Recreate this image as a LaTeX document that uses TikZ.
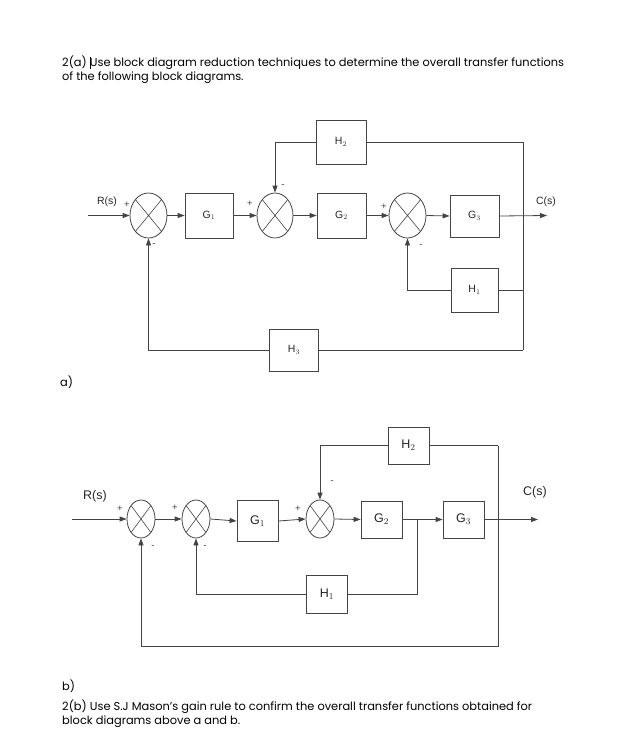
\documentclass[tikz,border=0pt]{standalone}
\usepackage{fontspec}
\setmainfont{Liberation Sans}
\newfontfamily\parafont{Poppins}
\usetikzlibrary{shapes.geometric,arrows.meta}
\definecolor{ln}{HTML}{444444}
\tikzset{
  blk/.style={draw=ln, line width=0.8pt, minimum width=#1, inner sep=0pt},
  sumj/.style={draw=ln, line width=0.8pt, ellipse, inner sep=0pt,
    path picture={\draw[ln, line width=0.6pt] (path picture bounding box.north west) -- (path picture bounding box.south east)
      (path picture bounding box.north east) -- (path picture bounding box.south west);}},
  wire/.style={draw=ln, line width=0.8pt},
  arr/.style={wire, -{Triangle[length=7pt,width=5pt]}},
  sgn/.style={font=\fontsize{9.5}{9.5}\selectfont, inner sep=0pt, text=ln},
  lbla/.style={font=\fontsize{10.5}{10.5}\selectfont, text=black!85},
  lblb/.style={font=\fontsize{12.5}{12.5}\selectfont, text=black!85},
  para/.style={font=\parafont\fontsize{11.4}{13.5}\selectfont, anchor=base west, inner sep=0pt},
}
\begin{document}
\begin{tikzpicture}[x=1pt,y=-1pt]
\useasboundingbox (0,0) rectangle (638,749);
% header text
\node[para] (t1) at (62,67) {2(a) Use block diagram reduction techniques to determine the overall transfer functions};
\node[para] (t2) at (62,81) {of the following block diagrams.};
\draw[black, line width=0.5pt] (90.5,57) -- (90.5,69);

% ---------- diagram a ----------
\node[sumj, minimum width=37pt, minimum height=45pt] (sa1) at (148.5,215.5) {};
\node[blk=48pt, minimum height=45pt, lbla] (ga1) at (209,215.5) {G$_1$};
\node[sumj, minimum width=36pt, minimum height=45pt] (sa2) at (275,215.5) {};
\node[blk=50pt, minimum height=44pt, lbla] (ha2) at (341,142) {H$_2$};
\node[blk=49pt, minimum height=45pt, lbla] (ga2) at (341.5,215.5) {G$_2$};
\node[sumj, minimum width=37pt, minimum height=45pt] (sa3) at (407.5,215.5) {};
\node[blk=49pt, minimum height=42pt, lbla] (ga3) at (474.5,216) {G$_3$};
\node[blk=47pt, minimum height=44pt, lbla] (ha1) at (474.5,290) {H$_1$};
\node[blk=49pt, minimum height=42pt, lbla] (ha3) at (294,350) {H$_3$};

\coordinate (ain) at (88,215.5);
\coordinate (aout) at (547,215.5);
\coordinate (apk) at (523,215.5);
\coordinate (atr) at (523,142);
\coordinate (abr) at (523,350);
\coordinate (abl) at (148.5,350);
\coordinate (ah2l) at (275,142);
\coordinate (ah1l) at (407.5,290);
\coordinate (ah1r) at (523,290);

\draw[arr] (ain) -- (sa1.west);
\draw[arr] (sa1.east) -- (ga1.west);
\draw[arr] (ga1.east) -- (sa2.west);
\draw[arr] (sa2.east) -- (ga2.west);
\draw[arr] (ga2.east) -- (sa3.west);
\draw[arr] (sa3.east) -- (ga3.west);
\draw[arr] (ga3.east) -- (aout);
\draw[wire] (atr) -- (abr);
\draw[wire] (atr) -- (ha2.east);
\draw[arr] (ha2.west) -- (ah2l) -- (sa2.north);
\draw[wire] (ah1r) -- (ha1.east);
\draw[arr] (ha1.west) -- (ah1l) -- (sa3.south);
\draw[wire] (abr) -- (ha3.east);
\draw[arr] (ha3.west) -- (abl) -- (sa1.south);

\node[lbla] (ar) at (107,202) {R(s)};
\node[lbla] (ac) at (546,202) {C(s)};
\node[sgn] (ap1) at (127,205) {+};
\node[sgn] (am1) at (154,245) {-};
\node[sgn] (ap2) at (250,204) {+};
\node[sgn] (am2) at (283,186) {-};
\node[sgn] (ap3) at (384,207) {+};
\node[sgn] (am3) at (421,246) {-};

\node[para] (la) at (60,386) {a)};

% ---------- diagram b ----------
\node[sumj, minimum width=28pt, minimum height=38pt] (sb1) at (141,519) {};
\node[sumj, minimum width=28pt, minimum height=38pt] (sb2) at (196,519) {};
\node[blk=41pt, minimum height=41pt, lblb] (gb1) at (257.5,521) {G$_1$};
\node[sumj, minimum width=28pt, minimum height=38pt] (sb3) at (320,519) {};
\node[blk=41pt, minimum height=37pt, lblb] (hb2) at (408.5,445.5) {H$_2$};
\node[blk=41pt, minimum height=37pt, lblb] (gb2) at (381.5,519.5) {G$_2$};
\node[blk=41pt, minimum height=37pt, lblb] (gb3) at (463.5,519.5) {G$_3$};
\node[blk=41pt, minimum height=38pt, lblb] (hb1) at (327,594) {H$_1$};

\coordinate (bin) at (72,519);
\coordinate (bout) at (538,519.5);
\coordinate (bpk) at (417,519.5);
\coordinate (bpkb) at (417,594);
\coordinate (btr) at (498,445.5);
\coordinate (bbr) at (498,646);
\coordinate (bbl) at (141,646);
\coordinate (bh2l) at (320,445.5);
\coordinate (bh1l) at (196,594);

\draw[arr] (bin) -- (sb1.west);
\draw[arr] (sb1.east) -- (sb2.west);
\draw[arr] (sb2.east) -- (gb1.west);
\draw[arr] (gb1.east) -- (sb3.west);
\draw[arr] (sb3.east) -- (gb2.west);
\draw[arr] (gb2.east) -- (gb3.west);
\draw[arr] (gb3.east) -- (bout);
\draw[wire] (btr) -- (hb2.east);
\draw[arr] (hb2.west) -- (bh2l) -- (sb3.north);
\draw[wire] (btr) -- (bbr) -- (bbl);
\draw[arr] (bbl) -- (sb1.south);
\draw[wire] (bpk) -- (bpkb) -- (hb1.east);
\draw[arr] (hb1.west) -- (bh1l) -- (sb2.south);

\node[lblb] (br) at (95,496) {R(s)};
\node[lblb] (bc) at (535,492) {C(s)};
\node[sgn] (bp1) at (120,509) {+};
\node[sgn] (bm1) at (153,547) {-};
\node[sgn] (bp2) at (175,508) {+};
\node[sgn] (bm2) at (205,547) {-};
\node[sgn] (bp3) at (298,509) {+};
\node[sgn] (bm3) at (332,482) {-};

\node[para] (lb) at (62,690) {b)};
\node[para] (t3) at (62,710) {2(b) Use S.J Mason’s gain rule to confirm the overall transfer functions obtained for};
\node[para] (t4) at (62,724) {block diagrams above a and b.};
\end{tikzpicture}
\end{document}
